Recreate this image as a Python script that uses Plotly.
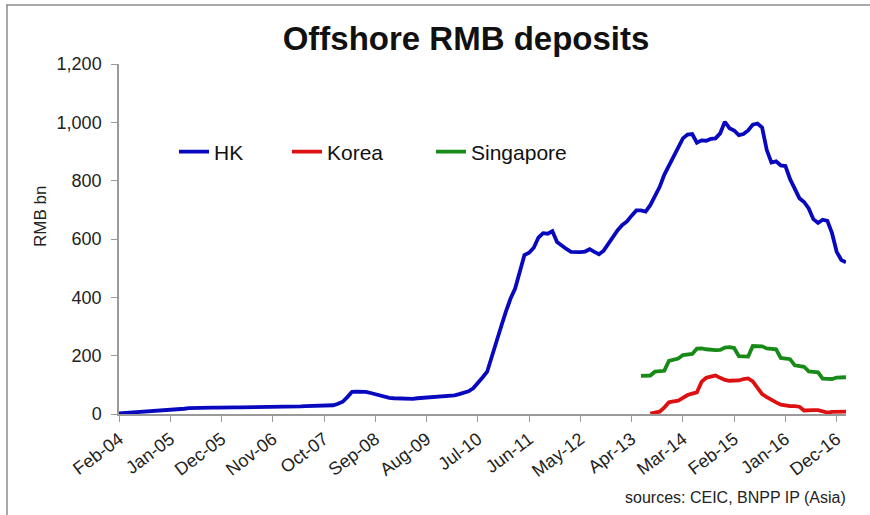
import pandas as pd
import plotly.graph_objects as go

# Monthly observation labels, Feb-04 .. Feb-17
months = pd.date_range("2004-02-01", "2017-02-01", freq="MS")
categories = list(months.strftime("%b-%y"))

# Hong Kong RMB deposits (RMB bn), monthly from Feb-04
hk = [
    2, 3, 3, 4, 5, 6, 7, 8, 10, 11, 12, 14,
    15, 17, 18, 20, 21, 22, 22, 22, 22, 22, 23, 23,
    23, 23, 23, 23, 23, 23, 23, 23, 23, 23, 23, 23,
    23, 25, 26, 26, 27, 27, 27, 27, 27, 28, 30, 35,
    42, 58, 76, 77, 77, 76, 72, 68, 64, 58, 55, 54,
    53, 52, 51, 52, 54, 55, 56, 57, 58, 59, 60, 62,
    64, 68, 72, 78, 88, 105, 125, 145, 200, 250, 300, 350,
    395, 430, 490, 545, 553, 570, 605, 620, 618, 627, 590, 576,
    566, 556, 554, 555, 557, 565, 556, 548, 560, 585, 605, 630,
    648, 660, 680, 698, 698, 694, 716, 745, 778, 820, 850, 885,
    916, 945, 958, 960, 930, 938, 937, 943, 945, 962, 1002, 980,
    972, 956, 960, 972, 992, 996, 982, 905, 862, 866, 852, 850,
    805, 775, 740, 727, 705, 668, 655, 666, 662, 620, 556, 528,
    520,
]

# Korea RMB deposits (RMB bn), monthly from Aug-13
korea_start = "Aug-13"
korea = [
    1, 4, 8, 22, 40, 43, 46, 55, 65, 70, 74, 110, 124, 128, 132,
    124, 117, 114, 114, 115, 120, 122, 112, 88, 68, 58, 48, 40,
    32, 29, 27, 27, 25, 12, 11, 13, 13, 10, 5, 7, 8, 8, 8,
]

# Singapore RMB deposits (RMB bn), monthly from Jun-13
singapore_start = "Jun-13"
singapore = [
    131, 131, 132, 145, 145, 148, 182, 185, 190, 202,
    204, 206, 224, 225, 222, 220, 219, 220, 228, 229,
    226, 198, 196, 197, 233, 234, 232, 225, 224, 222,
    192, 189, 188, 167, 165, 162, 146, 145, 143, 121,
    120, 120, 125, 127, 126,
]

tick_labels = ["Feb-04", "Jan-05", "Dec-05", "Nov-06", "Oct-07", "Sep-08",
               "Aug-09", "Jul-10", "Jun-11", "May-12", "Apr-13", "Mar-14",
               "Feb-15", "Jan-16", "Dec-16"]
y_ticks = [0, 200, 400, 600, 800, 1000, 1200]

FONT = "Arial, Liberation Sans, sans-serif"
W, H = 870, 515
L, R, T, B = 119, 24, 64, 101

k0 = categories.index(korea_start)
s0 = categories.index(singapore_start)

pw, ph = W - L - R, H - T - B


def px_x(px):
    return (px - L) / pw


def px_y(py):
    return (H - B - py) / ph


fig = go.Figure()
fig.add_trace(go.Scatter(x=categories, y=hk, name="HK", mode="lines",
                         line=dict(color="#0808BE", width=3.8), legend="legend"))
fig.add_trace(go.Scatter(x=categories[k0:], y=korea, name="Korea", mode="lines",
                         line=dict(color="#DD1111", width=3.8), legend="legend2"))
fig.add_trace(go.Scatter(x=categories[s0:], y=singapore, name="Singapore", mode="lines",
                         line=dict(color="#178A17", width=3.8), legend="legend3"))


def legend_at(px):
    return dict(orientation="h", x=px_x(px), y=px_y(152), xanchor="left",
                yanchor="middle", bgcolor="rgba(0,0,0,0)",
                font=dict(size=21, color="#111111", family=FONT))


fig.update_layout(
    width=W, height=H, autosize=False,
    margin=dict(l=L, r=R, t=T, b=B, pad=0),
    paper_bgcolor="white", plot_bgcolor="white",
    font=dict(family=FONT, color="#222222"),
    title=dict(text="<b>Offshore RMB deposits</b>", x=466 / W, xanchor="center",
               y=1 - 38 / H, yanchor="middle", xref="container", yref="container",
               font=dict(size=33, color="#111111", family=FONT)),
    showlegend=True,
    legend=legend_at(174),
    legend2=legend_at(287),
    legend3=legend_at(431),
    xaxis=dict(type="category", categoryorder="array", categoryarray=categories,
               range=[0, len(categories) - 1], tickmode="array",
               tickvals=tick_labels, ticktext=tick_labels, tickangle=-37,
               ticks="outside", ticklen=6, tickcolor="#9a9a9a",
               showline=True, linecolor="#9a9a9a", linewidth=1.5,
               showgrid=False, zeroline=False,
               tickfont=dict(size=18, color="#222222", family=FONT)),
    yaxis=dict(range=[0, 1200], tickmode="array", tickvals=y_ticks,
               tickformat=",", ticks="outside", ticklen=6, tickcolor="#9a9a9a",
               showline=True, linecolor="#9a9a9a", linewidth=1.5,
               showgrid=False, zeroline=False, ticklabelstandoff=6,
               tickfont=dict(size=18, color="#222222", family=FONT)),
    annotations=[
        dict(text="RMB bn", textangle=-90, xref="paper", yref="paper",
             x=px_x(40), y=px_y(217), showarrow=False, xanchor="center",
             yanchor="middle", font=dict(size=17, color="#222222", family=FONT)),
        dict(text="sources: CEIC, BNPP IP (Asia)", xref="paper", yref="paper",
             x=px_x(848), y=px_y(497), showarrow=False, xanchor="right",
             yanchor="middle", font=dict(size=16, color="#222222", family=FONT)),
    ],
    shapes=[
        dict(type="line", xref="paper", yref="paper", x0=px_x(6), x1=px_x(872),
             y0=px_y(5), y1=px_y(5), line=dict(color="#8c8c8c", width=1.5)),
        dict(type="line", xref="paper", yref="paper", x0=px_x(7), x1=px_x(7),
             y0=px_y(5), y1=px_y(517), line=dict(color="#8c8c8c", width=1.5)),
    ],
)

fig.write_html("out.html")
